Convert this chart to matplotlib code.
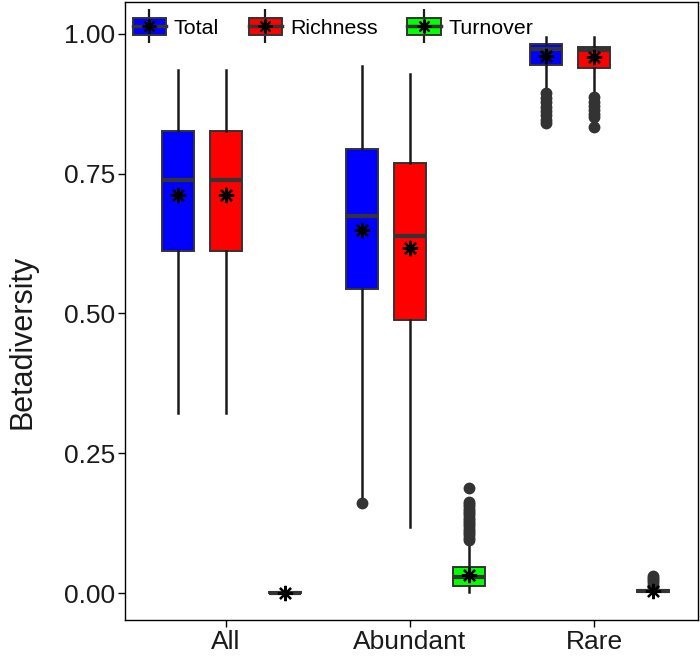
import matplotlib
matplotlib.use('Agg')
import matplotlib.pyplot as plt
from matplotlib.lines import Line2D
from matplotlib.patches import Rectangle

plt.rcParams['font.family'] = ['Liberation Sans', 'DejaVu Sans']

categories = ['All', 'Abundant', 'Rare']
groups = ['Total', 'Richness', 'Turnover']
colors = ['#0000FF', '#FF0000', '#00FF00']

# box statistics, one list per group, ordered All, Abundant, Rare
q1 = {'Total': [0.612, 0.544, 0.945],
      'Richness': [0.612, 0.488, 0.939],
      'Turnover': [0.000, 0.0125, 0.002]}
median = {'Total': [0.739, 0.675, 0.973],
          'Richness': [0.739, 0.639, 0.971],
          'Turnover': [0.000, 0.028, 0.003]}
q3 = {'Total': [0.827, 0.794, 0.981],
      'Richness': [0.827, 0.769, 0.977],
      'Turnover': [0.001, 0.046, 0.005]}
whisker_low = {'Total': [0.322, 0.168, 0.897],
               'Richness': [0.322, 0.118, 0.891],
               'Turnover': [0.000, 0.002, 0.000]}
whisker_high = {'Total': [0.936, 0.942, 0.994],
                'Richness': [0.936, 0.928, 0.994],
                'Turnover': [0.002, 0.092, 0.009]}
mean = {'Total': [0.712, 0.649, 0.961],
        'Richness': [0.712, 0.617, 0.959],
        'Turnover': [0.000, 0.033, 0.003]}
outliers = {
    'Total': [[], [0.161],
              [0.894, 0.886, 0.878, 0.870, 0.862, 0.854, 0.846, 0.840]],
    'Richness': [[], [],
                 [0.887, 0.879, 0.871, 0.864, 0.857, 0.852, 0.834]],
    'Turnover': [[], [0.095, 0.099, 0.103, 0.107, 0.111, 0.115, 0.119, 0.123,
                      0.127, 0.131, 0.135, 0.139, 0.143, 0.147, 0.151, 0.155,
                      0.159, 0.163, 0.188],
                 [0.011, 0.015, 0.019, 0.023, 0.027, 0.031]],
}

offsets = [-0.26, 0.0, 0.32]
box_width = 0.173
dark = '#333333'

fig = plt.figure(figsize=(7, 6.57), dpi=100)
ax = fig.add_axes([0.1786, 0.0563, 0.8184, 0.9407])

for g, grp in enumerate(groups):
    stats = []
    for c in range(len(categories)):
        stats.append({
            'q1': q1[grp][c], 'med': median[grp][c], 'q3': q3[grp][c],
            'whislo': whisker_low[grp][c], 'whishi': whisker_high[grp][c],
            'mean': mean[grp][c], 'fliers': outliers[grp][c],
        })
    pos = [c + 1 + offsets[g] for c in range(len(categories))]
    ax.bxp(stats, positions=pos, widths=box_width, patch_artist=True,
           showcaps=False, showmeans=True, manage_ticks=False,
           boxprops=dict(facecolor=colors[g], edgecolor=dark, linewidth=1.4),
           medianprops=dict(color=dark, linewidth=3.0),
           whiskerprops=dict(color='#1a1a1a', linewidth=1.8),
           flierprops=dict(marker='o', markerfacecolor=dark, markeredgecolor=dark,
                           markersize=7.5),
           meanprops=dict(marker=(8, 2, 0), markeredgecolor='black',
                          markerfacecolor='black', markersize=11,
                          markeredgewidth=1.6),
           zorder=2)

ax.set_xlim(0.451, 3.565)
ax.set_ylim(-0.0483, 1.057)
ax.set_xticks([1, 2, 3])
ax.set_xticklabels(categories)
ax.set_yticks([0, 0.25, 0.5, 0.75, 1.0])
ax.set_yticklabels(['0.00', '0.25', '0.50', '0.75', '1.00'])
ax.tick_params(axis='both', labelsize=19, colors='black', length=5, width=1,
               labelcolor='#1a1a1a', pad=2)
for s in ax.spines.values():
    s.set_color('black')
    s.set_linewidth(1.0)

fig.text(7 / 700, 1 - 342 / 657, 'Betadiversity', rotation=90, ha='left',
         va='center', fontsize=22, color='#1a1a1a')

handles = []
for col in colors:
    whisk = Line2D([], [], linestyle='none', marker='|', markersize=24,
                   markeredgewidth=1.6, color='#1a1a1a')
    box = Rectangle((0, 0), 1, 1, facecolor=col, edgecolor=dark, linewidth=1.4)
    med = Line2D([], [], color=dark, linewidth=2.5)
    star = Line2D([], [], linestyle='none', marker=(8, 2, 0), markersize=10,
                  markeredgewidth=1.5, color='black')
    handles.append((whisk, box, med, star))

ax.legend(handles, groups, loc='upper left', ncol=3, frameon=False,
          fontsize=15.4, handlelength=1.55, handleheight=0.85,
          handletextpad=0.37, columnspacing=1.4, borderpad=0.15,
          bbox_to_anchor=(0.0, 0.986), borderaxespad=0.2)

fig.savefig('out.png', dpi=100)
